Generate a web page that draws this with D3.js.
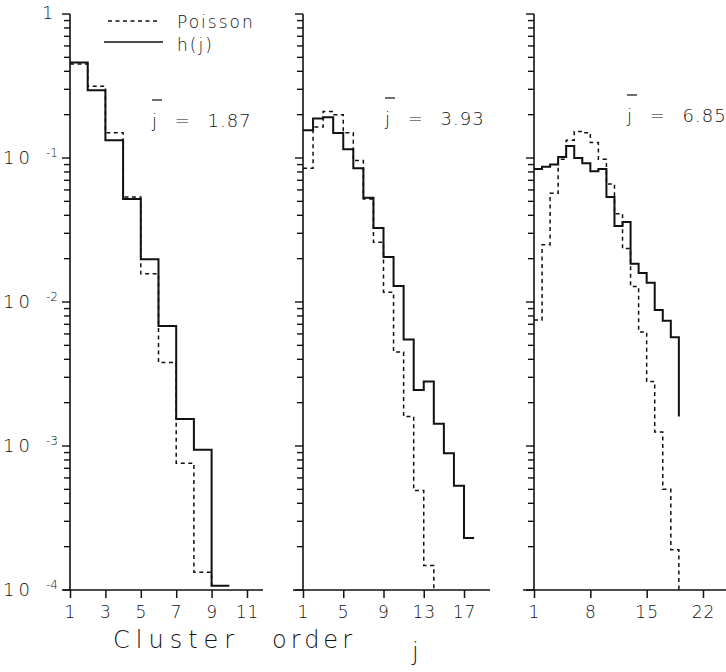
<!DOCTYPE html>
<html lang="en">
<head>
<meta charset="UTF-8">
<title>Cluster order distributions</title>
<script src="https://d3js.org/d3.v7.min.js"></script>
<style>
  body { margin: 0; background: #fff; }
  svg text { font-family: "DejaVu Sans", sans-serif; font-weight: 200; fill: #111; }
</style>
</head>
<body>
<svg id="chart" width="726" height="672"></svg>
<script>
// mean cluster order of each panel
const meanLabels = ["1.87", "3.93", "6.85"];

// h(j), one value per cluster order j = 1, 2, 3 ...
const hPanel1 = [0.46, 0.296, 0.133, 0.052, 0.0198, 0.0068, 0.00154, 0.00094, 0.000107];
const hPanel2 = [0.156, 0.188, 0.192, 0.149, 0.115, 0.085, 0.053, 0.0327, 0.0205, 0.0129,
                 0.0055, 0.00245, 0.0028, 0.00143, 0.00089, 0.00053, 0.00023];
// last value is where the final drop stops
const hPanel3 = [0.084, 0.087, 0.09, 0.1016, 0.121, 0.1, 0.092, 0.081, 0.084, 0.0535,
                 0.0337, 0.036, 0.0184, 0.0159, 0.0136, 0.0088, 0.0074, 0.0057, 0.0016];

// Poisson, same j = 1, 2, 3 ...
const poissonPanel1 = [0.45, 0.315, 0.15, 0.0536, 0.0157, 0.0038, 0.00076, 0.000133];
const poissonPanel2 = [0.085, 0.164, 0.21, 0.2, 0.15, 0.096, 0.052, 0.026, 0.0117, 0.0045,
                       0.0016, 0.00049, 0.000148];
const poissonPanel3 = [0.0075, 0.025, 0.057, 0.098, 0.133, 0.153, 0.15, 0.128, 0.098, 0.066,
                       0.041, 0.0235, 0.0128, 0.0062, 0.0028, 0.00125, 0.0005, 0.00019];

const xTicks1 = [1, 3, 5, 7, 9, 11];
const xTicks2 = [1, 5, 9, 13, 17];
const xTicks3 = [1, 8, 15, 22];
const yDecades = [1, 1e-1, 1e-2, 1e-3, 1e-4];
const yDecadeLabels = ["1", "-1", "-2", "-3", "-4"];

const svg = d3.select("#chart");
svg.append("rect").attr("width", 726).attr("height", 672).attr("fill", "#fff");

const y = d3.scaleLog().domain([1e-4, 1]).range([590, 14]);
const yMinor = [];
for (let k = -4; k < 0; k++) {
    for (let m = 2; m <= 9; m++) yMinor.push(m * Math.pow(10, k));
}

const panels = [
    { left: 70, right: 247, hi: 11, from: 63, to: 263, ticks: xTicks1,
      h: hPanel1, hEnd: "open", p: poissonPanel1, mean: meanLabels[0], lx: 152, ly: 127 },
    { left: 303, right: 464, hi: 17, from: 293, to: 490, ticks: xTicks2,
      h: hPanel2, hEnd: "open", p: poissonPanel2, mean: meanLabels[1], lx: 385, ly: 125 },
    { left: 534, right: 703, hi: 22, from: 523, to: 726, ticks: xTicks3,
      h: hPanel3, hEnd: "cut", p: poissonPanel3, mean: meanLabels[2], lx: 627, ly: 122 }
];

function stepPoints(values, end) {
    const pts = values.map((v, i) => [i + 1, v]);
    const n = values.length;
    if (end === "cut") return pts;
    pts.push([n + 1, values[n - 1]]);
    if (end === "axis") pts.push([n + 1, 1e-4]);
    return pts;
}

panels.forEach((pn, idx) => {
    const x = d3.scaleLinear().domain([1, pn.hi]).range([pn.left, pn.right]);
    const g = svg.append("g");

    // x axis
    const xAxis = g.append("g")
        .attr("transform", `translate(0,${y(1e-4)})`)
        .call(d3.axisBottom(x).tickValues(pn.ticks).tickSize(8).tickSizeOuter(0));
    xAxis.attr("font-family", null);
    xAxis.select(".domain").remove();
    xAxis.selectAll("line").attr("stroke", "#111").attr("stroke-width", 1.5);
    xAxis.selectAll("text")
        .attr("y", 28).attr("dy", 0)
        .attr("font-size", 17)
        .attr("letter-spacing", 1)
        .text(d => d);
    g.append("line")
        .attr("x1", pn.from).attr("x2", pn.to)
        .attr("y1", y(1e-4)).attr("y2", y(1e-4))
        .attr("stroke", "#111").attr("stroke-width", 1.6);

    // y axis: outward log ticks, then the axis line
    g.selectAll(".ytick")
        .data(yDecades.concat(yMinor))
        .join("line")
        .attr("class", "ytick")
        .attr("x1", d => pn.left - (yDecades.includes(d) ? 8 : 6))
        .attr("x2", pn.left)
        .attr("y1", d => y(d)).attr("y2", d => y(d))
        .attr("stroke", "#111").attr("stroke-width", 1.4);
    g.append("line")
        .attr("x1", pn.left).attr("x2", pn.left)
        .attr("y1", y(1e-4)).attr("y2", y(1))
        .attr("stroke", "#111").attr("stroke-width", 1.6);

    if (idx === 0) {
        yDecades.forEach((v, i) => {
            if (v === 1) {
                g.append("text").attr("x", 53).attr("y", y(v) + 5)
                    .attr("text-anchor", "end").attr("font-size", 17).text("1");
            } else {
                g.append("text").attr("x", 3).attr("y", y(v) + 6)
                    .attr("font-size", 18).attr("letter-spacing", 4).text("10");
                g.append("text").attr("x", 46).attr("y", y(v) - 1)
                    .attr("font-size", 12).text(yDecadeLabels[i]);
            }
        });
    }

    const line = d3.line()
        .x(d => x(d[0]))
        .y(d => y(d[1]))
        .curve(d3.curveStepAfter);

    g.append("path")
        .attr("d", line(stepPoints(pn.p, "axis")))
        .attr("fill", "none").attr("stroke", "#111")
        .attr("stroke-width", 1.5).attr("stroke-dasharray", "4,3.5");

    g.append("path")
        .attr("d", line(stepPoints(pn.h, pn.hEnd)))
        .attr("fill", "none").attr("stroke", "#111")
        .attr("stroke-width", 2);

    // mean label with overbar on j
    g.append("line")
        .attr("x1", pn.lx).attr("x2", pn.lx + 10)
        .attr("y1", pn.ly - 27).attr("y2", pn.ly - 27)
        .attr("stroke", "#111").attr("stroke-width", 1.2);
    g.append("text")
        .attr("x", pn.lx).attr("y", pn.ly)
        .attr("font-size", 18)
        .attr("letter-spacing", 1)
        .attr("word-spacing", 10)
        .text(`j = ${pn.mean}`);
});

// legend
const legend = svg.append("g");
legend.append("line").attr("x1", 108).attr("x2", 158).attr("y1", 21).attr("y2", 21)
    .attr("stroke", "#111").attr("stroke-width", 1.5).attr("stroke-dasharray", "4,3.5");
legend.append("text").attr("x", 177).attr("y", 28).attr("font-size", 17)
    .attr("letter-spacing", 2).text("Poisson");
legend.append("line").attr("x1", 104).attr("x2", 163).attr("y1", 42).attr("y2", 42)
    .attr("stroke", "#111").attr("stroke-width", 1.6);
legend.append("text").attr("x", 177).attr("y", 51).attr("font-size", 17)
    .attr("letter-spacing", 2).text("h(j)");

// axis title
svg.append("text")
    .attr("x", 113).attr("y", 648)
    .attr("font-size", 24)
    .attr("letter-spacing", 6)
    .text("Cluster");
svg.append("text")
    .attr("x", 272).attr("y", 648)
    .attr("font-size", 24)
    .attr("letter-spacing", 4)
    .text("order");
svg.append("text")
    .attr("x", 412).attr("y", 660)
    .attr("font-size", 24)
    .text("j");
</script>
</body>
</html>
